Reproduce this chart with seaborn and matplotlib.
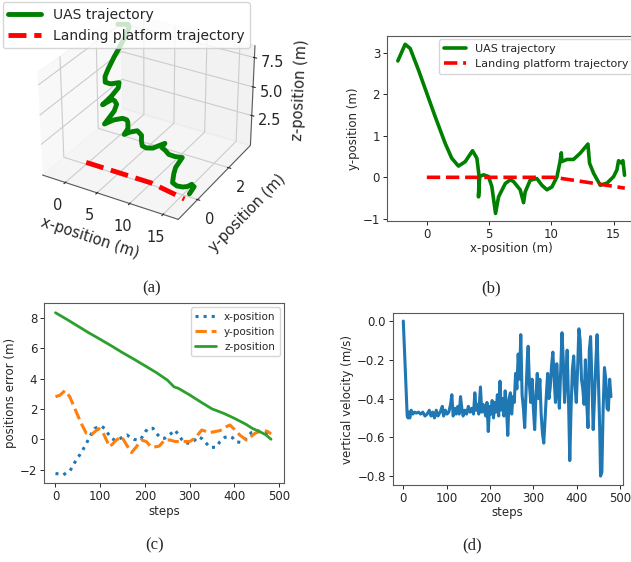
import numpy as np
import matplotlib
matplotlib.use('Agg')
import matplotlib.pyplot as plt
import seaborn as sns

# UAS path in the x-y plane, with altitude estimate
uas_x = [-2.33, -1.74, -1.34, -0.67, 0.0, 0.67, 1.47, 2.0, 2.54, 3.08, 3.67, 4.02, 4.2, 4.15,
         4.25, 4.55, 4.95, 5.22, 5.52, 5.76, 6.3, 6.7, 6.96, 7.5, 7.77, 7.9, 8.3, 8.84, 9.24,
         9.65, 10.05, 10.45, 10.7, 10.8, 10.85, 11.25, 11.78, 12.32, 12.94, 13.07, 13.39,
         13.93, 14.47, 15.0, 15.27, 15.4, 15.6, 15.75, 15.88]
uas_y = [2.80, 3.20, 3.10, 2.58, 2.02, 1.46, 0.82, 0.46, 0.27, 0.375, 0.64, 0.46, 0.02, -0.47,
         0.02, 0.06, 0.02, -0.22, -0.87, -0.47, -0.15, -0.06, -0.10, -0.30, -0.61, -0.35, -0.07,
         -0.03, -0.19, -0.30, -0.23, 0.01, 0.38, 0.59, 0.38, 0.43, 0.43, 0.58, 0.80, 0.34, 0.10,
         -0.19, -0.14, 0.015, 0.18, 0.40, 0.35, 0.40, 0.05]
uas_z = [8.33, 7.98, 7.84, 7.64, 7.51, 7.43, 7.25, 7.15, 6.98, 6.80, 6.68, 6.51, 6.39, 6.25,
         6.11, 5.99, 5.81, 5.59, 5.38, 5.24, 5.07, 4.89, 4.77, 4.60, 4.55, 4.43, 4.25, 3.91,
         3.68, 3.51, 3.30, 3.04, 2.86, 2.74, 2.67, 2.43, 2.17, 1.88, 1.60, 1.39, 1.22, 0.96,
         0.70, 0.49, 0.35, 0.26, 0.18, 0.11, 0.0]

plat_x = [0.0, 10.2, 12.0, 14.0, 15.9]
plat_y = [0.0, 0.0, -0.08, -0.17, -0.26]
plat_z = [0.0, 0.0, 0.0, 0.0, 0.0]

# position errors (panel c)
xerr_steps = [0, 10, 17, 25, 32, 40, 47, 55, 65, 73, 80, 88, 96, 103, 110, 118, 125, 132, 140,
              150, 160, 168, 175, 183, 189, 195, 201, 207, 218, 224, 229, 237, 244, 252, 259,
              267, 275, 282, 290, 300, 310, 319, 327, 334, 345, 359, 368, 379, 390, 396, 402,
              416, 427, 438, 453, 465, 475, 482]
xerr_vals = [-2.25, -2.30, -2.35, -2.2, -2.1, -1.7, -1.32, -1.0, -0.5, -0.05, 0.35, 0.72, 0.80,
             0.87, 0.7, 0.35, 0.07, -0.05, -0.05, 0.15, 0.28, 0.1, 0.0, -0.05, -0.05, 0.2, 0.5,
             0.72, 0.72, 0.45, 0.28, 0.06, 0.06, 0.25, 0.39, 0.61, 0.3, 0.0, -0.25, -0.25, -0.1,
             0.17, 0.05, -0.15, -0.53, -0.53, -0.15, 0.13, 0.2, 0.1, -0.15, -0.22, 0.07, 0.44,
             0.55, 0.45, 0.35, 0.3]
yerr_steps = [0, 10, 21, 32, 42, 51, 60, 69, 80, 90, 97, 106, 114, 121, 128, 136, 148, 159, 170,
              181, 192, 203, 212, 218, 232, 244, 256, 268, 278, 300, 312, 327, 345, 368, 380,
              390, 402, 412, 427, 436, 446, 465, 475, 482]
yerr_vals = [2.8, 2.9, 3.2, 2.8, 2.1, 1.49, 0.9, 0.39, 0.28, 0.55, 0.7, 0.45, -0.05, -0.49, -0.3,
             -0.05, 0.17, -0.37, -0.88, -0.49, -0.05, -0.15, -0.45, -0.53, -0.45, -0.05, -0.05,
             -0.15, -0.15, -0.15, 0.07, 0.61, 0.44, 0.57, 0.8, 0.94, 0.6, 0.28, -0.05, 0.15,
             0.39, 0.61, 0.5, 0.35]
zerr_steps = [0, 25, 50, 75, 100, 125, 150, 175, 200, 225, 250, 265, 275, 300, 325, 350, 375,
              400, 425, 440, 460, 470, 482]
zerr_vals = [8.33, 7.9, 7.45, 7.0, 6.58, 6.15, 5.7, 5.28, 4.84, 4.4, 3.9, 3.45, 3.35, 2.92, 2.45,
             2.0, 1.72, 1.38, 1.0, 0.72, 0.45, 0.3, 0.0]

# vertical velocity (panel d)
vel_steps = [0, 9, 11, 13, 15, 18, 22, 26, 30, 35, 40, 45, 50, 55, 60, 64, 68, 72, 76, 80, 85,
             90, 93, 97, 101, 105, 109, 112, 115, 119, 122, 126, 129, 132, 135, 138, 142, 146,
             150, 154, 158, 162, 165, 168, 171, 174, 178, 181, 184, 187, 190, 193, 196, 199,
             202, 205, 208, 211, 214, 217, 220, 223, 226, 229, 232, 235, 238, 241, 244, 247,
             250, 253, 256, 259, 262, 265, 268, 271, 274, 277, 280, 283, 286, 288, 291, 294,
             297, 300, 303, 306, 309, 312, 315, 318, 321, 324, 327, 330, 333, 336, 339, 342,
             345, 348, 351, 354, 357, 360, 363, 366, 369, 372, 375, 378, 381, 384, 387, 390,
             393, 396, 399, 402, 405, 408, 411, 414, 417, 420, 423, 426, 429, 432, 435, 438,
             441, 444, 447, 450, 453, 455, 458, 461, 464, 467, 470, 473, 476, 479]
vel_vals = [0.0, -0.49, -0.50, -0.47, -0.50, -0.46, -0.48, -0.47, -0.475, -0.47, -0.48, -0.47,
            -0.49, -0.48, -0.46, -0.49, -0.47, -0.50, -0.46, -0.49, -0.47, -0.44, -0.49, -0.46,
            -0.48, -0.47, -0.43, -0.38, -0.49, -0.45, -0.48, -0.44, -0.48, -0.39, -0.45, -0.49,
            -0.46, -0.48, -0.44, -0.47, -0.45, -0.48, -0.37, -0.46, -0.43, -0.48, -0.34, -0.47,
            -0.43, -0.46, -0.49, -0.42, -0.57, -0.44, -0.48, -0.41, -0.50, -0.42, -0.47, -0.38,
            -0.49, -0.31, -0.46, -0.40, -0.49, -0.36, -0.45, -0.59, -0.40, -0.37, -0.48, -0.39,
            -0.42, -0.27, -0.35, -0.17, -0.30, -0.07, -0.38, -0.45, -0.55, -0.38, -0.20, -0.13,
            -0.33, -0.42, -0.30, -0.45, -0.56, -0.38, -0.27, -0.40, -0.30, -0.48, -0.58, -0.63,
            -0.50, -0.38, -0.27, -0.40, -0.34, -0.23, -0.16, -0.30, -0.42, -0.22, -0.35, -0.45,
            -0.25, -0.06, -0.20, -0.42, -0.30, -0.15, -0.40, -0.72, -0.45, -0.25, -0.18, -0.33,
            -0.42, -0.25, -0.04, -0.10, -0.30, -0.35, -0.43, -0.20, -0.42, -0.55, -0.15, -0.08,
            -0.30, -0.56, -0.40, -0.22, -0.07, -0.30, -0.55, -0.80, -0.78, -0.45, -0.24, -0.30,
            -0.45, -0.46, -0.30, -0.39]

sns.set_style('ticks', {'axes.edgecolor': '0.35', 'xtick.color': '0.15', 'ytick.color': '0.15'})
plt.rcParams['font.family'] = ['DejaVu Sans']

fig = plt.figure(figsize=(6.31, 5.62), dpi=100)

# (a) 3D trajectories
ax_a = fig.add_axes([0.005, 0.5825, 0.45, 0.43], projection='3d')
ax_a.plot(uas_x, uas_y, uas_z, color='g', lw=3.5, label='UAS trajectory')
ax_a.plot(plat_x, plat_y, plat_z, color='r', lw=3.5, ls='--', label='Landing platform trajectory')
ax_a.set_xticks([0, 5, 10, 15])
ax_a.set_yticks([0, 2])
ax_a.set_zticks([2.5, 5.0, 7.5])
ax_a.tick_params(labelsize=10.5, pad=0)
ax_a.set_xlabel('x-position (m)', fontsize=10.5, labelpad=0)
ax_a.set_ylabel('y-position (m)', fontsize=10.5, labelpad=0)
ax_a.set_zlabel('z-position (m)', fontsize=10.5, labelpad=0)
ax_a.legend(loc='upper left', bbox_to_anchor=(0.004, 0.996), bbox_transform=fig.transFigure,
            fontsize=10, borderaxespad=0, handlelength=2.4)

# (b) x-y trajectories
ax_b = fig.add_axes([0.6133, 0.6068, 0.3946, 0.3292])
sns.lineplot(x=uas_x, y=uas_y, sort=False, ax=ax_b, color='g', lw=2.6, label='UAS trajectory')
sns.lineplot(x=plat_x, y=plat_y, sort=False, ax=ax_b, color='r', lw=2.6, ls='--',
             label='Landing platform trajectory')
ax_b.set_xlim(-3.2, 16.8)
ax_b.set_ylim(-1.05, 3.4)
ax_b.set_xticks([0, 5, 10, 15])
ax_b.set_yticks([-1, 0, 1, 2, 3])
ax_b.set_xlabel('x-position (m)', fontsize=8.5, labelpad=1)
ax_b.set_ylabel('y-position (m)', fontsize=8.5, labelpad=2)
ax_b.tick_params(labelsize=8.5, length=3, width=0.7, pad=2)
ax_b.legend(loc='upper right', fontsize=8, borderaxespad=0.3)

# (c) position errors
ax_c = fig.add_axes([0.0702, 0.1400, 0.3799, 0.3203])
sns.lineplot(x=xerr_steps, y=xerr_vals, ax=ax_c, color='tab:blue', lw=2.2, ls=':', label='x-position')
sns.lineplot(x=yerr_steps, y=yerr_vals, ax=ax_c, color='tab:orange', lw=2.2, ls='--', label='y-position')
sns.lineplot(x=zerr_steps, y=zerr_vals, ax=ax_c, color='tab:green', lw=2.0, label='z-position')
ax_c.set_xlim(-25, 511)
ax_c.set_ylim(-2.9, 8.95)
ax_c.set_xticks([0, 100, 200, 300, 400, 500])
ax_c.set_yticks([-2, 0, 2, 4, 6, 8])
ax_c.set_xlabel('steps', fontsize=8.5, labelpad=1)
ax_c.set_ylabel('positions error (m)', fontsize=8.5, labelpad=2)
ax_c.tick_params(labelsize=8.5, length=3, width=0.7, pad=2)
ax_c.legend(loc='upper right', fontsize=7.5, borderaxespad=0.4)

# (d) vertical velocity
ax_d = fig.add_axes([0.6223, 0.1370, 0.3645, 0.3055])
sns.lineplot(x=vel_steps, y=vel_vals, ax=ax_d, color='tab:blue', lw=2.2)
ax_d.set_xlim(-24.5, 506)
ax_d.set_ylim(-0.846, 0.04)
ax_d.set_xticks([0, 100, 200, 300, 400, 500])
ax_d.set_yticks([0.0, -0.2, -0.4, -0.6, -0.8])
ax_d.set_xlabel('steps', fontsize=8.5, labelpad=1)
ax_d.set_ylabel('vertical velocity (m/s)', fontsize=8.5, labelpad=2)
ax_d.tick_params(labelsize=8.5, length=3, width=0.7, pad=2)

for ax in (ax_b, ax_c, ax_d):
    for sp in ax.spines.values():
        sp.set_linewidth(0.8)

cap = dict(fontsize=12, family='Liberation Serif', ha='center', va='center')
fig.text(152 / 631, 1 - 288 / 562, '(a)', **cap)
fig.text(491 / 631, 1 - 288 / 562, '(b)', **cap)
fig.text(155 / 631, 1 - 545 / 562, '(c)', **cap)
fig.text(472 / 631, 1 - 545 / 562, '(d)', **cap)

fig.savefig('out.png', dpi=100)
